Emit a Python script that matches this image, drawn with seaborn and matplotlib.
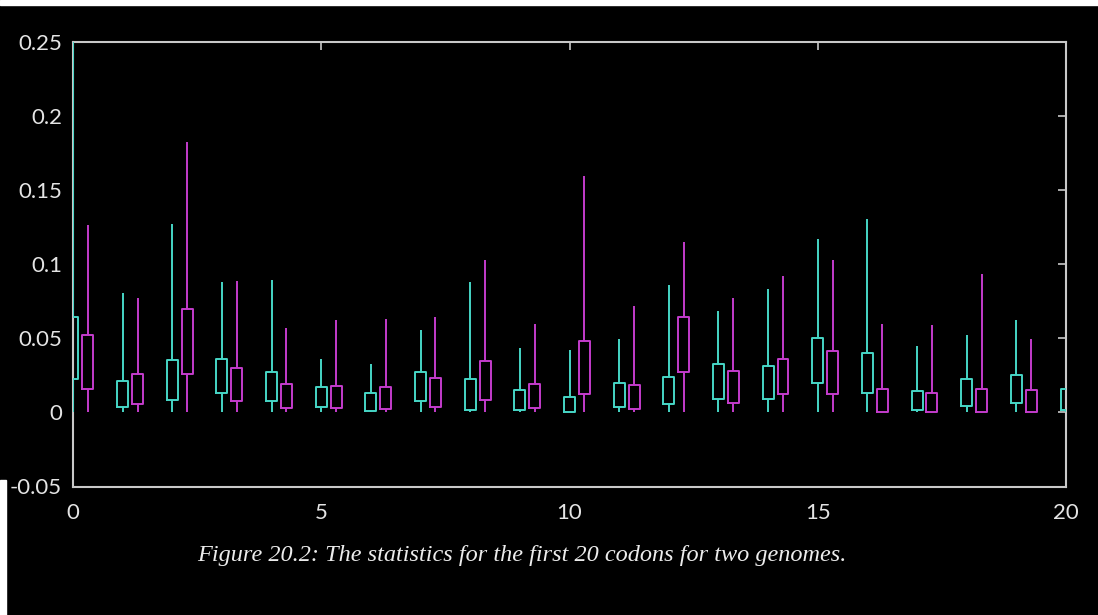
import pandas as pd
import seaborn as sns
import matplotlib.pyplot as plt
from matplotlib.patches import Rectangle

# codon statistics (min, lower quartile, upper quartile, max)
codons_a = list(range(21))
a_min = [0.0] * 21
a_q1 = [0.0225, 0.0036, 0.0083, 0.0133, 0.0076, 0.0036, 0.0010, 0.0077, 0.0020, 0.0020, 0.0000,
        0.0038, 0.0054, 0.0088, 0.0088, 0.0200, 0.0133, 0.0016, 0.0043, 0.0061, 0.0016]
a_q3 = [0.0647, 0.0210, 0.0355, 0.0364, 0.0274, 0.0170, 0.0133, 0.0273, 0.0223, 0.0155, 0.0104,
        0.0200, 0.0239, 0.0329, 0.0313, 0.0505, 0.0403, 0.0144, 0.0227, 0.0250, 0.0160]
a_max = [0.2700, 0.0810, 0.1276, 0.0883, 0.0898, 0.0360, 0.0330, 0.0554, 0.0883, 0.0437, 0.0419,
         0.0493, 0.0860, 0.0685, 0.0831, 0.1173, 0.1304, 0.0448, 0.0523, 0.0622, 0.0160]

codons_b = list(range(20))
b_min = [0.0] * 20
b_q1 = [0.0160, 0.0060, 0.0258, 0.0076, 0.0027, 0.0027, 0.0025, 0.0036, 0.0081, 0.0032,
        0.0128, 0.0025, 0.0275, 0.0065, 0.0122, 0.0122, 0.0005, 0.0000, 0.0005, 0.0005]
b_q3 = [0.0520, 0.0260, 0.0700, 0.0300, 0.0195, 0.0180, 0.0169, 0.0230, 0.0347, 0.0194,
        0.0486, 0.0185, 0.0647, 0.0279, 0.0363, 0.0414, 0.0160, 0.0133, 0.0160, 0.0155]
b_max = [0.1265, 0.0775, 0.1824, 0.0887, 0.0568, 0.0624, 0.0628, 0.0644, 0.1027, 0.0599,
         0.1597, 0.0718, 0.1153, 0.0775, 0.0921, 0.1027, 0.0599, 0.0590, 0.0937, 0.0498]

caption = "Figure 20.2: The statistics for the first 20 codons for two genomes."


def candle_frame(codons, lo, q1, q3, hi, offset):
    # 5 points per codon -> boxplot with whis=(0,100) gives exactly min/q1/q3/max
    rows = []
    for c, a, b, d, e in zip(codons, lo, q1, q3, hi):
        for v in (a, b, (b + d) / 2, d, e):
            rows.append({"pos": c + offset, "val": v})
    return pd.DataFrame(rows)


df_a = candle_frame(codons_a, a_min, a_q1, a_q3, a_max, 0.0)
df_b = candle_frame(codons_b, b_min, b_q1, b_q3, b_max, 0.3)

sns.set_theme(style="dark", rc={
    "figure.facecolor": "black",
    "axes.facecolor": "black",
    "axes.edgecolor": "#c8c8c8",
    "axes.linewidth": 1.5,
    "axes.grid": False,
})
plt.rcParams["font.family"] = ["Lato", "DejaVu Sans"]

fig = plt.figure(figsize=(10.98, 6.15), dpi=100)
ax = fig.add_axes([73 / 1098, 1 - 486.5 / 615, (1066 - 73) / 1098, (486.5 - 42.3) / 615])

box_kw = dict(x="pos", y="val", native_scale=True, fill=False, width=0.22,
              whis=(0, 100), showcaps=False, showfliers=False, linewidth=1.4,
              medianprops=dict(linewidth=0), ax=ax)
sns.boxplot(data=df_a, color="#46d6c6", **box_kw)
sns.boxplot(data=df_b, color="#c43ccc", **box_kw)

ax.set_xlim(0, 20)
ax.set_ylim(-0.05, 0.25)
ax.set_xticks([0, 5, 10, 15, 20])
ax.set_yticks([-0.05, 0, 0.05, 0.1, 0.15, 0.2, 0.25])
ax.set_yticklabels(["-0.05", "0", "0.05", "0.1", "0.15", "0.2", "0.25"])
ax.set_xlabel("")
ax.set_ylabel("")
ax.tick_params(direction="in", length=6, width=1.2, color="#c8c8c8",
               top=True, right=True, labelcolor="#e4e4e4", labelsize=16)
ax.tick_params(axis="y", pad=8)
ax.tick_params(axis="x", pad=12)
for sp in ax.spines.values():
    sp.set_zorder(0.5)

fig.text(522 / 1098, 1 - 555 / 615, caption, ha="center", va="center",
         family="Liberation Serif", style="italic", fontsize=17.5, color="#ececec")

# white strips at the edges of the scanned page
fig.add_artist(Rectangle((0, 1 - 5 / 615), 1, 5 / 615, transform=fig.transFigure,
                         color="white", zorder=10))
fig.add_artist(Rectangle((0, 0), 6 / 1098, 1 - 480 / 615, transform=fig.transFigure,
                         color="white", zorder=10))

fig.savefig("out.png", dpi=100, facecolor="black")
